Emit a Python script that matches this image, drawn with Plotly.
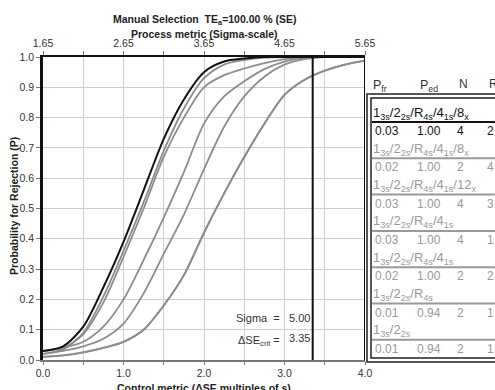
import plotly.graph_objects as go

# ---------------- data ----------------
delta_se = [0, 0.25, 0.5, 0.75, 1.0, 1.25, 1.5, 1.75, 2.0, 2.25, 2.5, 2.75, 3.0, 3.25, 3.5, 3.75, 4.0]

p_rule1 = [0.03, 0.045, 0.11, 0.24, 0.39, 0.56, 0.73, 0.86, 0.95, 0.985, 0.995, 1.0, 1.0, 1.0, 1.0, 1.0, 1.0]
p_rule2 = [0.02, 0.035, 0.09, 0.21, 0.36, 0.52, 0.69, 0.83, 0.93, 0.975, 0.99, 0.998, 1.0, 1.0, 1.0, 1.0, 1.0]
p_rule3 = [0.03, 0.04, 0.085, 0.19, 0.34, 0.50, 0.67, 0.80, 0.90, 0.94, 0.962, 0.98, 0.993, 1.0, 1.0, 1.0, 1.0]
p_rule4 = [0.03, 0.04, 0.06, 0.11, 0.20, 0.33, 0.47, 0.62, 0.78, 0.87, 0.92, 0.96, 0.985, 0.997, 1.0, 1.0, 1.0]
p_rule5 = [0.02, 0.03, 0.045, 0.07, 0.12, 0.22, 0.35, 0.48, 0.63, 0.77, 0.87, 0.935, 0.975, 0.993, 1.0, 1.0, 1.0]
p_rule6 = [0.01, 0.015, 0.025, 0.04, 0.06, 0.10, 0.18, 0.28, 0.42, 0.55, 0.67, 0.78, 0.875, 0.925, 0.955, 0.975, 0.988]
p_rule7 = [0.01, 0.015, 0.025, 0.04, 0.06, 0.10, 0.18, 0.28, 0.42, 0.55, 0.67, 0.78, 0.875, 0.925, 0.955, 0.975, 0.988]
curves = [p_rule1, p_rule2, p_rule3, p_rule4, p_rule5, p_rule6, p_rule7]

rule_names = [
    "1<sub>3s</sub>/2<sub>2s</sub>/R<sub>4s</sub>/4<sub>1s</sub>/8<sub>x</sub>",
    "1<sub>3s</sub>/2<sub>2s</sub>/R<sub>4s</sub>/4<sub>1s</sub>/8<sub>x</sub>",
    "1<sub>3s</sub>/2<sub>2s</sub>/R<sub>4s</sub>/4<sub>1s</sub>/12<sub>x</sub>",
    "1<sub>3s</sub>/2<sub>2s</sub>/R<sub>4s</sub>/4<sub>1s</sub>",
    "1<sub>3s</sub>/2<sub>2s</sub>/R<sub>4s</sub>/4<sub>1s</sub>",
    "1<sub>3s</sub>/2<sub>2s</sub>/R<sub>4s</sub>",
    "1<sub>3s</sub>/2<sub>2s</sub>",
]
p_fr = ["0.03", "0.02", "0.03", "0.03", "0.02", "0.01", "0.01"]
p_ed = ["1.00", "1.00", "1.00", "1.00", "1.00", "0.94", "0.94"]
n_vals = ["4", "2", "4", "4", "2", "2", "2"]
r_vals = ["2", "4", "3", "1", "2", "1", "1"]

x_ticks = [0, 0.5, 1.0, 1.5, 2.0, 2.5, 3.0, 3.5, 4.0]
x_ticklabels = ["0.0", "", "1.0", "", "2.0", "", "3.0", "", "4.0"]
sigma_ticks = [1.65, 2.15, 2.65, 3.15, 3.65, 4.15, 4.65, 5.15, 5.65]
sigma_ticklabels = ["1.65", "", "2.65", "", "3.65", "", "4.65", "", "5.65"]
y_ticks = [0.0, 0.1, 0.2, 0.3, 0.4, 0.5, 0.6, 0.7, 0.8, 0.9, 1.0]
y_ticklabels = ["0.0", "0.1", "0.2", "0.3", "0.4", "0.5", "0.6", "0.7", "0.8", "0.9", "1.0"]

sigma_value = 5.00
dse_crit = 3.35
tea = 100.00

# ---------------- layout helpers ----------------
W, H = 495, 390
L, R, T, B = 43, 130, 57, 30
PW, PH = W - L - R, H - T - B


def px(xp):
    return (xp - L) / PW


def py(yp):
    return (H - B - yp) / PH


FONT = "Liberation Sans, Arial, sans-serif"
GRAY = "#8c8c8c"
TXT_GRAY = "#999999"

fig = go.Figure()

# curves (gray first, black on top)
for i in range(len(curves) - 1, -1, -1):
    fig.add_trace(go.Scatter(
        x=delta_se, y=curves[i], mode="lines",
        line=dict(color="#111111" if i == 0 else GRAY, width=2 if i == 0 else 1.8,
                  shape="spline", smoothing=0.8),
        showlegend=False, hoverinfo="skip"))

# invisible trace to activate top axis
fig.add_trace(go.Scatter(x=[sigma_ticks[0], sigma_ticks[-1]], y=[None, None], xaxis="x2",
                         mode="lines", showlegend=False, hoverinfo="skip"))

fig.update_layout(
    width=W, height=H, autosize=False,
    margin=dict(l=L, r=R, t=T, b=B),
    paper_bgcolor="white", plot_bgcolor="white",
    font=dict(family=FONT, size=10, color="#333333"),
    xaxis=dict(range=[0, 4], tickvals=x_ticks, ticktext=x_ticklabels,
               showgrid=True, gridcolor="#cfcfcf", gridwidth=1,
               showline=True, linecolor="#777777", linewidth=1.5,
               ticks="outside", ticklen=3, tickcolor="#777777",
               zeroline=False, tickfont=dict(size=10.5, color="#333333")),
    xaxis2=dict(range=[sigma_ticks[0], sigma_ticks[-1]], overlaying="x", side="top",
                tickvals=sigma_ticks, ticktext=sigma_ticklabels,
                showgrid=False, showline=True, linecolor="#111111", linewidth=2,
                ticks="outside", ticklen=4, tickcolor="#777777",
                zeroline=False, tickfont=dict(size=10.5, color="#333333")),
    yaxis=dict(range=[0, 1], tickvals=y_ticks, ticktext=y_ticklabels,
               showgrid=True, gridcolor="#cfcfcf", gridwidth=1,
               showline=True, linecolor="#111111", linewidth=2.5, mirror=False,
               ticks="outside", ticklen=4, tickcolor="#777777",
               zeroline=False, tickfont=dict(size=10.5, color="#333333")),
)

shapes = []
# right border of plot
shapes.append(dict(type="line", xref="x", yref="y", x0=4, x1=4, y0=0, y1=1,
                   line=dict(color="#111111", width=2), layer="above"))
# critical line
shapes.append(dict(type="line", xref="x", yref="y", x0=dse_crit, x1=dse_crit, y0=0, y1=1,
                   line=dict(color="#111111", width=2), layer="above"))
# table frames
shapes.append(dict(type="rect", xref="paper", yref="paper", x0=px(367), x1=px(505),
                   y0=py(362), y1=py(94), line=dict(color="#222222", width=1.5)))
shapes.append(dict(type="rect", xref="paper", yref="paper", x0=px(371), x1=px(505),
                   y0=py(358), y1=py(98), line=dict(color="#222222", width=1.5)))

annotations = []


def ann(text, xp, yp, size=11, color="#333333", xanchor="left", yanchor="middle", **kw):
    annotations.append(dict(text=text, x=px(xp), y=py(yp), xref="paper", yref="paper",
                            showarrow=False, xanchor=xanchor, yanchor=yanchor,
                            font=dict(family=FONT, size=size, color=color), **kw))


# titles
ann("<b>Manual Selection  TE<sub>a</sub>=%.2f %% (SE)</b>" % tea, 205, 20, size=10.5, color="#222222", xanchor="center")
ann("<b>Process metric (Sigma-scale)</b>", 204, 34, size=10.5, color="#222222", xanchor="center")
ann("<b>Control metric (\u0394SE multiples of s)</b>", 204, 388, size=10.5, color="#222222", xanchor="center")
ann("<b>Probability for Rejection (P)</b>", 14, 206, size=10.5, color="#222222", xanchor="center", textangle=-90)

# sigma / dse annotations inside plot
annotations.append(dict(text="Sigma  =", x=2.965, y=0.14, xref="x", yref="y", showarrow=False,
                        xanchor="right", yanchor="middle", font=dict(family=FONT, size=11, color="#333333")))
annotations.append(dict(text="%.2f" % sigma_value, x=3.035, y=0.14, xref="x", yref="y", showarrow=False,
                        xanchor="left", yanchor="middle", font=dict(family=FONT, size=11, color="#333333")))
annotations.append(dict(text="\u0394SE<sub>crit</sub> =", x=2.965, y=0.062, xref="x", yref="y", showarrow=False,
                        xanchor="right", yanchor="middle", font=dict(family=FONT, size=11, color="#333333")))
annotations.append(dict(text="%.2f" % dse_crit, x=3.035, y=0.073, xref="x", yref="y", showarrow=False,
                        xanchor="left", yanchor="middle", font=dict(family=FONT, size=11, color="#333333")))

# table header
ann("P<sub>fr</sub>", 371, 86, size=12.5)
ann("P<sub>ed</sub>", 418, 86, size=12.5)
ann("N", 463, 84, size=12, xanchor="center")
ann("R", 487, 84, size=12)

# table rows
pitch = 36.3
for k in range(len(rule_names)):
    vy = 131 + pitch * k
    col = "#111111" if k == 0 else TXT_GRAY
    ann(rule_names[k], 371, vy - 18, size=13, color=col)
    shapes.append(dict(type="line", xref="paper", yref="paper", x0=px(372), x1=px(500),
                       y0=py(vy - 9), y1=py(vy - 9), line=dict(color=col, width=2)))
    ann(p_fr[k], 373, vy, size=12, color=col)
    ann(p_ed[k], 443, vy, size=12, color=col, xanchor="right")
    ann(n_vals[k], 460, vy, size=12, color=col, xanchor="center")
    ann(r_vals[k], 485, vy, size=12, color=col)

fig.update_layout(shapes=shapes, annotations=annotations)
fig.write_html("out.html", config={"displayModeBar": False},
               post_script="document.body.style.margin='0';document.body.style.overflow='hidden';")
